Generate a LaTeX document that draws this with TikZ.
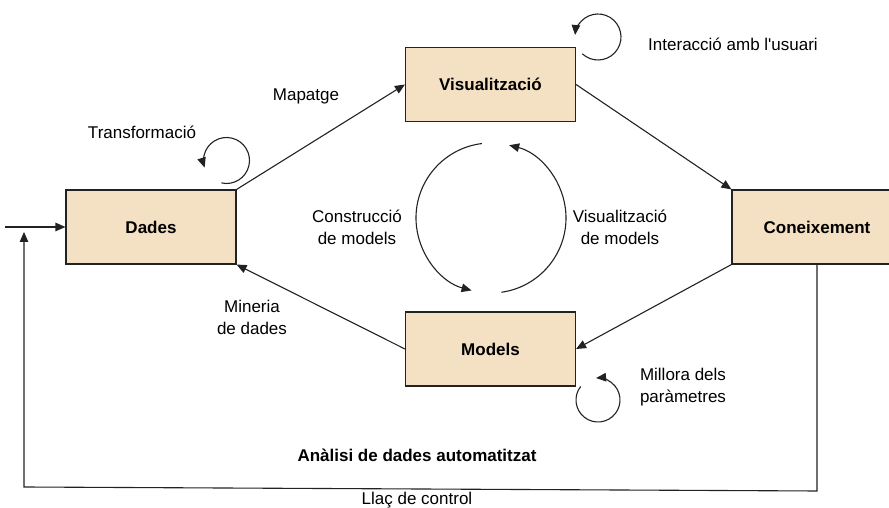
\documentclass[tikz,border=0pt]{standalone}
\usepackage{fontspec}
\setmainfont{Liberation Sans}
\usetikzlibrary{arrows.meta}
\definecolor{boxfill}{HTML}{F4E0C2}
\definecolor{ink}{HTML}{222222}
\tikzset{
  box/.style={draw=ink, line width=1.1pt, fill=boxfill, minimum width=170pt, minimum height=74pt, inner sep=0pt, font=\fontsize{17}{21}\selectfont\bfseries},
  conn/.style={draw=ink, line width=1.1pt, -{Triangle[length=10pt,width=8.5pt]}},
  lbl/.style={font=\fontsize{17}{22}\selectfont, align=center, inner sep=0pt, text=black},
}
\begin{document}
\begin{tikzpicture}[x=1pt,y=1pt]
\useasboundingbox (0,0) rectangle (889,508);
% boxes
\node[box] (dades) at (151,281) {Dades};
\node[box] (visu) at (490.5,423.5) {Visualització};
\node[box] (con) at (817,281) {Coneixement};
\node[box] (models) at (490.5,159) {Models};
% main connectors
\draw[conn] (dades.north east) -- (visu.west);
\draw[conn] (visu.east) -- (con.north west);
\draw[conn] (con.south west) -- (models.east);
\draw[conn] (models.west) -- (dades.south east);
% entry and feedback
\coordinate (in) at (5,281);
\coordinate (fb1) at (817,17);
\coordinate (fb2) at (24,21);
\coordinate (fb3) at (24,276);
\draw[conn] (in) -- (dades.west);
\draw[conn] (con.south) -- (fb1) -- (fb2) -- (fb3);
% self loops
\coordinate (tl) at (226.5,347.5);
\draw[conn] ([shift={(-103:23)}]tl) arc[start angle=-103, end angle=198, radius=23];
\coordinate (il) at (598,471);
\draw[conn] ([shift={(-133:23)}]il) arc[start angle=-133, end angle=175, radius=23];
\coordinate (ml) at (598,108);
\draw[conn] ([shift={(142:22)}]ml) arc[start angle=142, end angle=455, radius=22];
% central cycle
\coordinate (cc) at (491,290);
\draw[conn] ([shift={(97:75)}]cc) arc[start angle=97, end angle=255, radius=75];
\draw[conn] ([shift={(-82:75)}]cc) arc[start angle=-82, end angle=76, radius=75];
% labels
\node[lbl] (mapatge) at (306,412) {Mapatge};
\node[lbl] (transf) at (142,376) {Transformació};
\node[lbl] (inter) at (733,464) {Interacció amb l\textquotesingle usuari};
\node[lbl] (constr) at (357,281) {Construcció\\de models};
\node[lbl] (vismod) at (620,281) {Visualització\\de models};
\node[lbl] (miner) at (252,191) {Mineria\\de dades};
\node[lbl] (millora) at (683,121) {Millora dels\\paràmetres};
\node[lbl, font=\fontsize{17}{22}\selectfont\bfseries] (anal) at (417,53) {Anàlisi de dades automatitzat};
\node[lbl] (llac) at (417,8) {Llaç de control};
\end{tikzpicture}
\end{document}
